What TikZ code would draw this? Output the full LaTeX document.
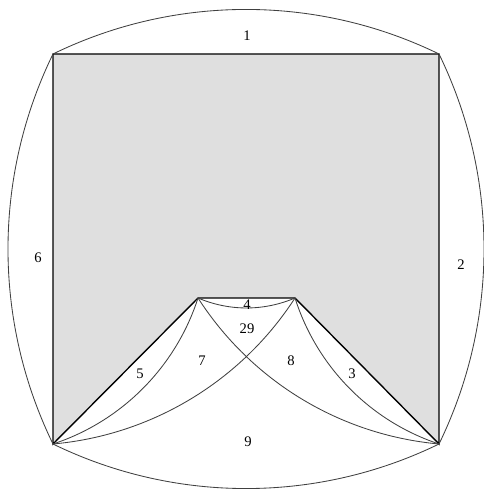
\documentclass[tikz,border=0pt]{standalone}
\usepackage{fontspec}
\setmainfont{Liberation Serif}

\begin{document}
\begin{tikzpicture}[
    x=0.65pt,y=0.65pt,
    edge/.style={line width=0.9pt,black},
    curve/.style={line width=0.55pt,black!75,looseness=0.9},
    face/.style={inner sep=0pt,font=\fontsize{9.5}{11}\selectfont}
  ]
  \useasboundingbox (0,0) rectangle (484,489);
  \coordinate (A) at (53,435);
  \coordinate (B) at (439,435);
  \coordinate (C) at (439,45);
  \coordinate (D) at (53,45);
  \coordinate (P) at (198,191);
  \coordinate (Q) at (295,191);

  \fill[gray!25] (A) -- (B) -- (C) -- (Q) -- (P) -- (D) -- cycle;
  \draw[edge] (D) -- (A) -- (B) -- (C) -- (Q) -- (P) -- cycle;

  \draw[curve] (A) to[bend left=26] (B) to[bend left=26] (C)
               to[bend left=26] (D) to[bend left=26] (A);
  \draw[curve] (P) to[bend right=23] (Q);
  \draw[curve] (P) to[bend left=27] (D);
  \draw[curve] (Q) to[bend right=27] (C);
  \draw[curve] (D) to[bend right=26] (Q);
  \draw[curve] (P) to[bend right=26] (C);

  \node[face] (f1) at (247,453) {1};
  \node[face] (f2) at (461,224) {2};
  \node[face] (f3) at (352,115) {3};
  \node[face] (f4) at (247,184) {4};
  \node[face] (f5) at (140,115) {5};
  \node[face] (f6) at (38,231) {6};
  \node[face] (f7) at (202,128) {7};
  \node[face] (f8) at (291,128) {8};
  \node[face] (f9) at (248,47) {9};
  \node[face] (f29) at (247,160) {29};
\end{tikzpicture}
\end{document}
